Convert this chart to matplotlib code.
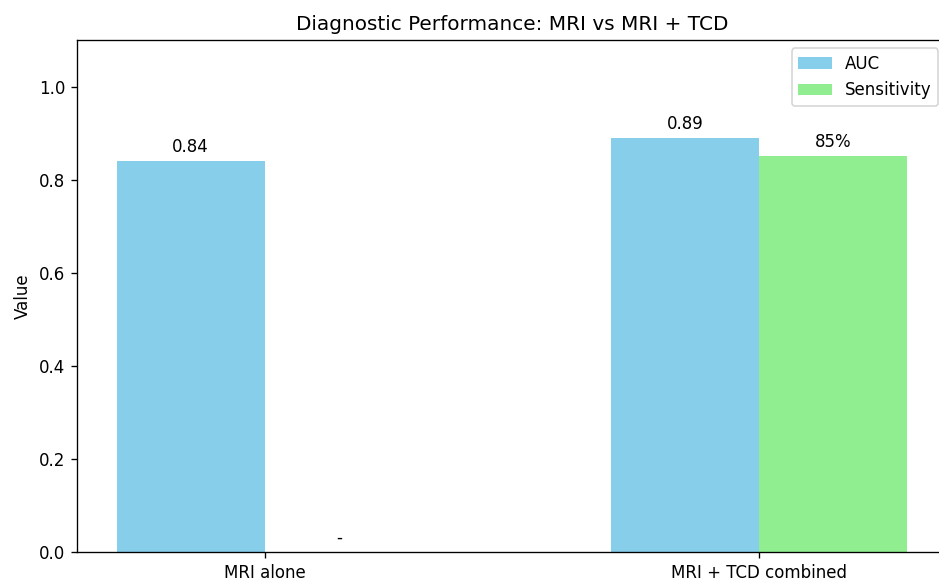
import numpy as np
import matplotlib.pyplot as plt

groups = ['MRI alone', 'MRI + TCD combined']
auc = [0.84, 0.89]
sensitivity = [np.nan, 0.85]

x = np.arange(len(groups))
width = 0.3

fig = plt.figure(figsize=(7.826, 4.842), dpi=120)
ax = fig.add_axes([0.082, 0.05, 0.926, 0.881])

auc_bars = ax.bar(x - width / 2, auc, width, label='AUC', color='skyblue')
sens_bars = ax.bar(x + width / 2, sensitivity, width, label='Sensitivity', color='lightgreen')

for bar, v in zip(auc_bars, auc):
    ax.annotate(f'{v:.2f}', xy=(bar.get_x() + bar.get_width() / 2, v),
                xytext=(0, 3), textcoords='offset points', ha='center', va='bottom')

# missing values get a dash at the baseline
for bar, v in zip(sens_bars, sensitivity):
    h = 0 if np.isnan(v) else v
    txt = '-' if np.isnan(v) else f'{v * 100:.0f}%'
    ax.annotate(txt, xy=(bar.get_x() + bar.get_width() / 2, h),
                xytext=(0, 3), textcoords='offset points', ha='center', va='bottom')

ax.set_xticks(x)
ax.set_xticklabels(groups)
ax.set_ylim(0, 1.1)
ax.set_ylabel('Value')
ax.set_title('Diagnostic Performance: MRI vs MRI + TCD')
ax.legend(loc='upper right')
ax.spines['right'].set_visible(False)

fig.savefig('out.png', dpi=120)
